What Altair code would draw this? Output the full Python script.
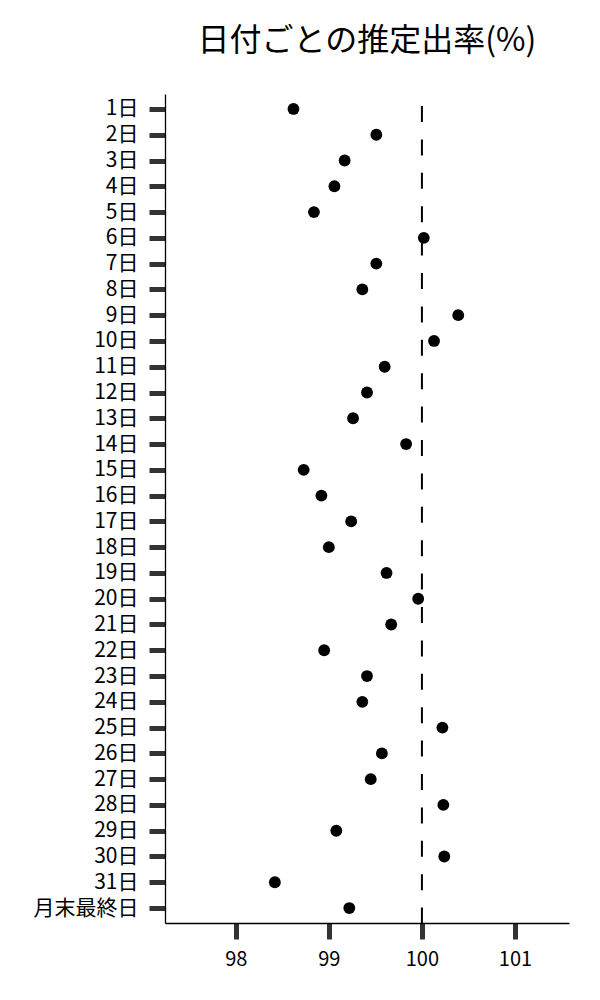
import altair as alt
import pandas as pd

days = [f"{i}日" for i in range(1, 32)] + ["月末最終日"]
rates = [98.62, 99.51, 99.17, 99.06, 98.84, 100.02, 99.51, 99.36, 100.39, 100.13,
         99.60, 99.41, 99.26, 99.83, 98.73, 98.92, 99.24, 99.00, 99.62, 99.96,
         99.67, 98.95, 99.41, 99.36, 100.22, 99.57, 99.45, 100.23, 99.08, 100.24,
         98.42, 99.22]
ref_value = [100]
x_ticks = [98, 99, 100, 101]

df = pd.DataFrame({"day": days, "rate": rates})
ref = pd.DataFrame({"ref": ref_value})

FONT = "Noto Sans CJK JP"

x_scale = alt.Scale(domain=[97.24, 101.58], nice=False, zero=False)
x_axis = alt.Axis(values=x_ticks, title=None, labelFontSize=20,
                  labelPadding=10, format="d")

rule = alt.Chart(ref).mark_rule(color="black", strokeWidth=2,
                                strokeDash=[16, 17.4], strokeDashOffset=21.4).encode(
    x=alt.X("ref:Q", scale=x_scale, axis=x_axis)
)

points = alt.Chart(df).mark_circle(size=140, color="black", opacity=1).encode(
    x=alt.X("rate:Q", scale=x_scale, axis=x_axis),
    y=alt.Y("day:N", sort=days, scale=alt.Scale(padding=0.58),
            axis=alt.Axis(title=None, labelFontSize=21, labelPadding=11)),
)

chart = alt.layer(rule, points).properties(
    width=404,
    height=829,
    title=alt.TitleParams("日付ごとの推定出率(%)", fontSize=32, fontWeight="normal",
                          anchor="middle", offset=35, font=FONT, color="black"),
    padding={"left": 25, "top": 17, "right": 5, "bottom": 5},
).configure(font=FONT).configure_view(stroke=None).configure_axis(
    grid=False, domainColor="black", domainWidth=1.3,
    tickColor="#333333", tickWidth=5, tickSize=16,
    labelColor="black", labelFont=FONT,
)

chart.save("out.html", embed_options={"renderer": "svg", "actions": False})
